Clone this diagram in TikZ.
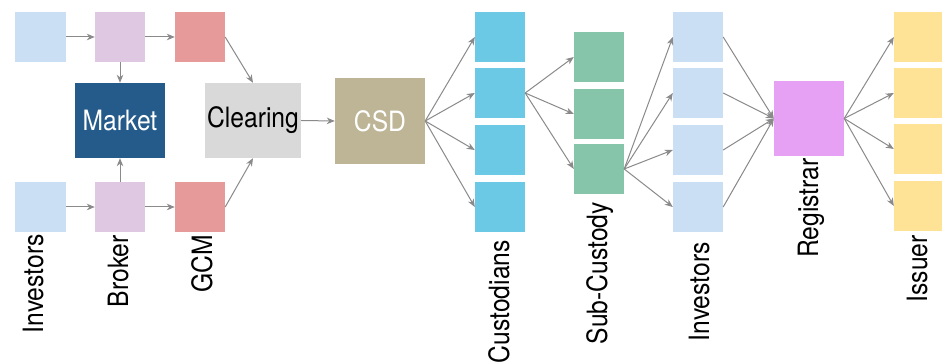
\documentclass[tikz,border=0pt]{standalone}
\usepackage{fontspec}
\setmainfont{TeX Gyre Heros}[FakeStretch=0.88]
\usetikzlibrary{arrows.meta}
\definecolor{cinv}{HTML}{CADFF3}
\definecolor{cbro}{HTML}{DFC8E2}
\definecolor{cgcm}{HTML}{E69A9A}
\definecolor{cmkt}{HTML}{255B8A}
\definecolor{ccle}{HTML}{D9D9D9}
\definecolor{ccsd}{HTML}{BDB596}
\definecolor{ccus}{HTML}{6CC9E6}
\definecolor{csub}{HTML}{86C5AA}
\definecolor{creg}{HTML}{E6A1F5}
\definecolor{ciss}{HTML}{FEE397}
\definecolor{carr}{HTML}{8A8A8A}
\begin{document}
\begin{tikzpicture}[x=1pt,y=-1pt,
  box/.style={rectangle,inner sep=0pt,draw=none,minimum width=50pt,minimum height=50pt},
  bigbox/.style={rectangle,inner sep=0pt,draw=none,font=\fontsize{28pt}{32pt}\selectfont},
  lbl/.style={rotate=90,anchor=base east,inner sep=0pt,font=\fontsize{28pt}{32pt}\selectfont},
  arr/.style={draw=carr,line width=1pt,-{Stealth[length=8pt,width=6.5pt,inset=2.5pt]}}]
\useasboundingbox[fill=white] (0,0) rectangle (942,363);
% left group
\node[box,fill=cinv,minimum width=51pt] (inv1) at (40.5,37) {};
\node[box,fill=cbro] (br1) at (120,37) {};
\node[box,fill=cgcm] (gcm1) at (200,37) {};
\node[bigbox,fill=cmkt,text=white,minimum width=90pt,minimum height=75pt] (mkt) at (120,120.5) {Market};
\node[bigbox,fill=ccle,text=black,minimum width=96pt,minimum height=75pt] (cle) at (253,120.5) {Clearing};
\node[box,fill=cinv,minimum width=51pt] (inv2) at (40.5,207) {};
\node[box,fill=cbro] (br2) at (120,207) {};
\node[box,fill=cgcm] (gcm2) at (200,207) {};
% CSD
\node[bigbox,fill=ccsd,text=white,minimum width=90pt,minimum height=86pt] (csd) at (380,121) {CSD};
% custodians
\node[box,fill=ccus] (cus1) at (500,37) {};
\node[box,fill=ccus] (cus2) at (500,93) {};
\node[box,fill=ccus] (cus3) at (500,150) {};
\node[box,fill=ccus] (cus4) at (500,207) {};
% sub-custody
\node[box,fill=csub] (sub1) at (599,57) {};
\node[box,fill=csub] (sub2) at (599,114) {};
\node[box,fill=csub] (sub3) at (599,169) {};
% investors right
\node[box,fill=cinv] (ir1) at (698,37) {};
\node[box,fill=cinv] (ir2) at (698,93) {};
\node[box,fill=cinv] (ir3) at (698,150) {};
\node[box,fill=cinv] (ir4) at (698,207) {};
% registrar
\node[box,fill=creg,minimum width=70pt,minimum height=75pt] (reg) at (809,118.5) {};
% issuer
\node[box,fill=ciss] (is1) at (919,37) {};
\node[box,fill=ciss] (is2) at (919,93) {};
\node[box,fill=ciss] (is3) at (919,149) {};
\node[box,fill=ciss] (is4) at (919,206) {};
% labels
\node[lbl] (l1) at (43,234) {Investors};
\node[lbl] (l2) at (128,235) {Broker};
\node[lbl] (l3) at (212,235) {GCM};
\node[lbl] (l4) at (509,240) {Custodians};
\node[lbl] (l5) at (607,202) {Sub-Custody};
\node[lbl] (l6) at (709,242) {Investors};
\node[lbl] (l7) at (818,158) {Registrar};
\node[lbl] (l8) at (927,235) {Issuer};
% connectors
\draw[arr] (inv1.east) -- (br1.west);
\draw[arr] (br1.east) -- (gcm1.west);
\draw[arr] (inv2.east) -- (br2.west);
\draw[arr] (br2.east) -- (gcm2.west);
\draw[arr] (br1.south) -- (mkt.north);
\draw[arr] (br2.north) -- (mkt.south);
\draw[arr] (gcm1.east) -- (cle.north);
\draw[arr] (gcm2.east) -- (cle.south);
\draw[arr] (cle.east) -- (csd.west);
\foreach \c in {cus1,cus2,cus3,cus4} \draw[arr] (csd.east) -- (\c.west);
\foreach \s in {sub1,sub2,sub3} \draw[arr] (cus2.east) -- (\s.west);
\foreach \i in {ir1,ir2,ir3,ir4} \draw[arr] (sub3.east) -- (\i.west);
\foreach \i in {ir1,ir2,ir3,ir4} \draw[arr] (\i.east) -- (reg.west);
\foreach \i in {is1,is2,is3,is4} \draw[arr] (reg.east) -- (\i.west);
\end{tikzpicture}
\end{document}
